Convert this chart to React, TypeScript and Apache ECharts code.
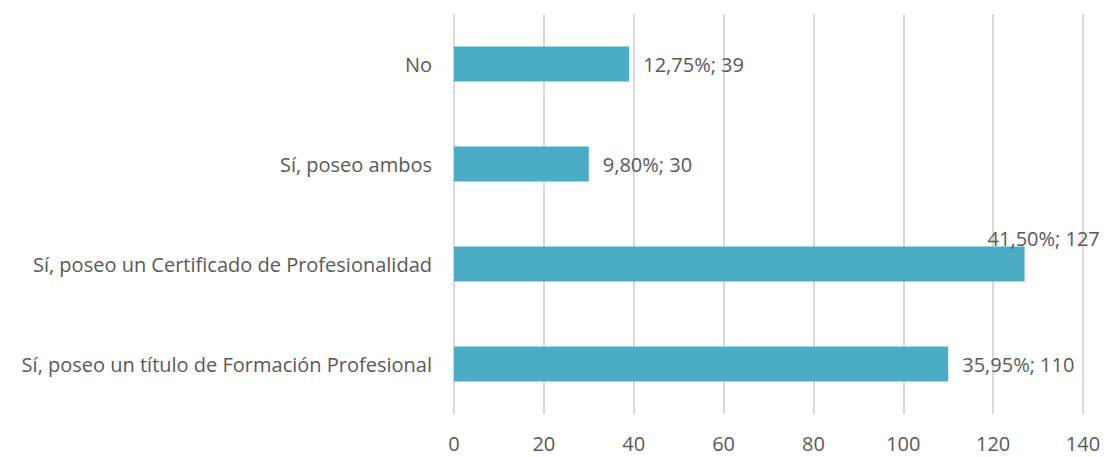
import React, { useEffect, useRef } from "react";
import * as echarts from "echarts";

const categories = [
  "Sí, poseo un título de Formación Profesional",
  "Sí, poseo un Certificado de Profesionalidad",
  "Sí, poseo ambos",
  "No",
];
const counts = [110, 127, 30, 39];
const percents = ["35,95%", "41,50%", "9,80%", "12,75%"];
const xTicks = { min: 0, max: 140, interval: 20 };

export default function App() {
  const ref = useRef<HTMLDivElement>(null);
  useEffect(() => {
    document.body.style.margin = "0";
    if (!ref.current) return;
    const chart = echarts.init(ref.current, null, { renderer: "svg" });
    const font = "Open Sans";
    chart.setOption({
      animation: false,
      textStyle: { fontFamily: font },
      grid: { left: 454, right: 30, top: 14, bottom: 43, containLabel: false },
      xAxis: {
        type: "value",
        min: xTicks.min,
        max: xTicks.max,
        interval: xTicks.interval,
        axisLine: { show: false },
        axisTick: { show: false },
        splitLine: { show: true, lineStyle: { color: "#D9D9D9", width: 2 } },
        axisLabel: { color: "#595959", fontSize: 20, fontFamily: font, margin: 19 },
      },
      yAxis: {
        type: "category",
        data: categories,
        axisLine: { show: false },
        axisTick: { show: false },
        axisLabel: { color: "#595959", fontSize: 20, fontFamily: font, margin: 22 },
      },
      series: [
        {
          type: "bar",
          barWidth: 35,
          itemStyle: { color: "#4BACC6" },
          data: counts.map((v, i) =>
            i === 1
              ? { value: v, label: { offset: [-51, -26] } }
              : { value: v }
          ),
          label: {
            show: true,
            position: "right",
            distance: 14,
            color: "#595959",
            fontSize: 20,
            fontFamily: font,
            formatter: (p: any) => `${percents[p.dataIndex]}; ${counts[p.dataIndex]}`,
          },
        },
      ],
    });
    return () => chart.dispose();
  }, []);
  return <div ref={ref} style={{ width: 1113, height: 457 }} />;
}
